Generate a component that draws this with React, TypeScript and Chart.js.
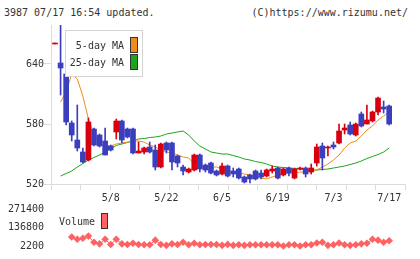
import React, { useEffect, useRef } from "react";
import { Chart, registerables } from "chart.js";

Chart.register(...registerables);

// Trading sessions shown on the chart
const dates = [
  "4/20", "4/21", "4/22", "4/23", "4/24", "4/27", "4/28", "4/30", "5/1", "5/7",
  "5/8", "5/11", "5/12", "5/13", "5/14", "5/15", "5/18", "5/19", "5/20", "5/21",
  "5/22", "5/25", "5/26", "5/27", "5/28", "5/29", "6/1", "6/2", "6/3", "6/4",
  "6/5", "6/8", "6/9", "6/10", "6/11", "6/12", "6/15", "6/16", "6/17", "6/18",
  "6/19", "6/22", "6/23", "6/24", "6/25", "6/26", "6/29", "6/30", "7/1", "7/2",
  "7/3", "7/6", "7/7", "7/8", "7/9", "7/10", "7/13", "7/14", "7/15", "7/16",
  "7/17",
];

const openPrices = [
  660, 641, 630, 581, 564, 552, 544, 575, 569, 563,
  558, 572, 583, 575, 575, 551, 552, 557, 554, 537,
  561, 561, 548, 537, 532, 534, 549, 539, 541, 533,
  530, 538, 533, 535, 527, 529, 533, 531, 528, 533,
  536, 529, 536, 526, 535, 536, 532, 541, 558, 556,
  559, 561, 574, 579, 569, 590, 580, 583, 592, 597,
  598,
];
const highPrices = [
  661, 690, 635, 583, 599, 556, 586, 576, 570, 576,
  559, 585, 584, 576, 576, 562, 557, 562, 559, 561,
  562, 562, 549, 539, 536, 550, 550, 540, 542, 534,
  541, 539, 536, 536, 528, 530, 534, 534, 535, 538,
  537, 536, 537, 536, 537, 537, 540, 560, 561, 558,
  562, 580, 580, 582, 581, 592, 599, 593, 607, 603,
  599,
];
const lowPrices = [
  660, 609, 579, 563, 553, 541, 543, 558, 557, 549,
  553, 565, 561, 566, 550, 551, 550, 551, 534, 536,
  551, 534, 537, 529, 531, 533, 532, 532, 530, 528,
  529, 527, 527, 525, 521, 521, 524, 525, 527, 531,
  525, 528, 528, 525, 534, 527, 530, 538, 534, 548,
  555, 560, 570, 569, 568, 577, 580, 582, 589, 591,
  579,
];
const closePrices = [
  661, 636, 582, 569, 556, 542, 582, 559, 558, 549,
  554, 583, 564, 567, 551, 553, 556, 552, 537, 560,
  554, 542, 541, 533, 535, 549, 535, 534, 531, 529,
  538, 528, 530, 526, 522, 525, 525, 527, 534, 535,
  526, 535, 531, 535, 536, 530, 536, 557, 546, 557,
  557, 573, 576, 570, 580, 578, 584, 592, 606, 595,
  580,
];

const ma5 = [
  null, 602, 612, 630, 625, 608, 585, 570, 561, 558,
  558, 560, 561, 562, 563, 563, 562, 559, 557, 554,
  552, 551, 549, 547, 546, 540, 538, 537, 537, 537,
  535, 534, 532, 531, 530, 529, 527, 526, 525, 527,
  529, 530, 531, 531, 532, 532, 533, 534, 537, 540,
  544, 549, 556, 561, 563, 568, 574, 578, 584, 588,
  592,
];
const ma25 = [
  null, 528, 530.5, 533, 537, 540.5, 544, 546.5, 549, 552,
  555, 558.5, 560, 561.5, 563, 565, 565.5, 566.5, 567, 568,
  570, 571, 572, 573, 569, 563, 558, 555, 552, 551,
  550, 550, 548.5, 547, 545, 544, 542.5, 541.5, 540, 538,
  537, 536.5, 536, 535.5, 535, 534, 534, 534, 534.5, 535,
  536, 537, 538, 539.5, 541, 543, 545.5, 547.5, 549.5, 552,
  556,
];

const volumes = [
  null, null, null, 67500, 51300, 58100, 74200, 29100, 17700, 51300,
  13600, 51300, 17700, 13600, 22400, 13600, 10900, 10900, 44600, 13600,
  6900, 17700, 13600, 29100, 10900, 22400, 10900, 13600, 13600, 13600,
  6900, 14000, 6900, 10900, 6900, 10900, 10900, 10900, 10900, 10900,
  10900, 2200, 10900, 10900, 2200, 10900, 10900, 24400, 29100, 6900,
  10900, 24400, 10900, 6900, 10900, 17700, 22400, 51300, 44600, 29100,
  40600,
];

const priceTicks = [520, 580, 640];
const volumeTicks = [2200, 136800, 271400];
const dateTickLabels = ["5/8", "5/22", "6/5", "6/19", "7/3", "7/17"];

const UP = "#d6000e";
const DOWN = "#3b3fbe";
const MA5_COLOR = "#f08c1c";
const MA25_COLOR = "#1aa51a";
const VOL_COLOR = "#ff6262";
const AXIS_COLOR = "#dcdcdc";
const TEXT_COLOR = "#333";
const FONT = "'DejaVu Sans Mono', 'Liberation Mono', monospace";

const X_MIN = -0.72;
const X_MAX = 62.84;

const candleColors = openPrices.map((o, i) => (closePrices[i] >= o ? UP : DOWN));

const maLegend = {
  id: "maLegend",
  afterDraw(chart: any) {
    const ctx = chart.ctx as CanvasRenderingContext2D;
    ctx.save();
    ctx.fillStyle = "#fff";
    ctx.fillRect(65, 30, 78, 47);
    ctx.strokeStyle = "#d4d4d4";
    ctx.lineWidth = 1;
    ctx.strokeRect(65.5, 30.5, 77, 46);
    ctx.font = `10px ${FONT}`;
    ctx.fillStyle = TEXT_COLOR;
    ctx.textAlign = "right";
    ctx.textBaseline = "middle";
    ctx.fillText("5-day MA", 124, 46);
    ctx.fillText("25-day MA", 124, 63);
    ctx.fillStyle = MA5_COLOR;
    ctx.fillRect(131, 38, 6, 14);
    ctx.fillStyle = MA25_COLOR;
    ctx.fillRect(131, 55, 6, 14);
    ctx.strokeStyle = "#333";
    ctx.strokeRect(130.5, 37.5, 7, 15);
    ctx.strokeRect(130.5, 54.5, 7, 15);
    ctx.restore();
  },
};

const volumeLegend = {
  id: "volumeLegend",
  afterDraw(chart: any) {
    const ctx = chart.ctx as CanvasRenderingContext2D;
    ctx.save();
    ctx.font = `10px ${FONT}`;
    ctx.fillStyle = TEXT_COLOR;
    ctx.textAlign = "right";
    ctx.textBaseline = "middle";
    ctx.fillText("Volume", 95, 32);
    ctx.fillStyle = VOL_COLOR;
    ctx.fillRect(102, 24, 5, 14);
    ctx.strokeStyle = "#333";
    ctx.lineWidth = 1;
    ctx.strokeRect(101.5, 23.5, 6, 15);
    ctx.restore();
  },
};

export default function App() {
  const priceRef = useRef<HTMLCanvasElement>(null);
  const volRef = useRef<HTMLCanvasElement>(null);

  useEffect(() => {
    Chart.defaults.font.family = FONT;
    Chart.defaults.font.size = 10;
    Chart.defaults.color = TEXT_COLOR;

    const idx = dates.map((_, i) => i);

    const priceChart = new Chart(priceRef.current!, {
      type: "bar",
      data: {
        datasets: [
          {
            type: "bar",
            label: "body",
            data: idx.map((i) => ({ x: i, y: [openPrices[i], closePrices[i]] })) as any,
            backgroundColor: candleColors,
            barThickness: 5,
            minBarLength: 1,
            grouped: false,
            borderWidth: 0,
            order: 0,
          },
          {
            type: "bar",
            label: "wick",
            data: idx.map((i) => ({ x: i, y: [lowPrices[i], highPrices[i]] })) as any,
            backgroundColor: candleColors,
            barThickness: 1,
            grouped: false,
            borderWidth: 0,
            order: 1,
          },
          {
            type: "line",
            label: "5-day MA",
            data: idx.map((i) => ({ x: i, y: ma5[i] })) as any,
            borderColor: MA5_COLOR,
            borderWidth: 1,
            pointRadius: 0,
            order: 2,
          },
          {
            type: "line",
            label: "25-day MA",
            data: idx.map((i) => ({ x: i, y: ma25[i] })) as any,
            borderColor: MA25_COLOR,
            borderWidth: 1,
            pointRadius: 0,
            order: 3,
          },
        ],
      },
      options: {
        responsive: false,
        animation: false,
        devicePixelRatio: 1,
        events: [],
        layout: { padding: { top: 25, right: 15, left: 0, bottom: 0 } },
        plugins: { legend: { display: false }, tooltip: { enabled: false } },
        scales: {
          x: {
            type: "linear",
            display: false,
            min: X_MIN,
            max: X_MAX,
            offset: false,
          },
          xt: {
            type: "linear",
            position: "bottom",
            min: 0,
            max: 11,
            ticks: { display: false, stepSize: 1 },
            grid: { drawOnChartArea: false, tickLength: 6, color: AXIS_COLOR },
            border: { color: AXIS_COLOR },
            afterFit: (s: any) => {
              s.height = 8;
            },
          },
          y: {
            type: "linear",
            position: "left",
            min: 520,
            max: 679,
            beginAtZero: false,
            afterBuildTicks: (s: any) => {
              s.ticks = priceTicks.map((v) => ({ value: v }));
            },
            ticks: { padding: 0, color: TEXT_COLOR, callback: (v: any) => String(v) },
            grid: { drawOnChartArea: false, tickLength: 7, color: AXIS_COLOR },
            border: { color: AXIS_COLOR },
            afterFit: (s: any) => {
              s.width = 51;
            },
          },
        },
      } as any,
      plugins: [maLegend],
    });

    const dateTickIdx = dateTickLabels.map((d) => dates.indexOf(d));

    const volChart = new Chart(volRef.current!, {
      type: "line",
      data: {
        datasets: [
          {
            label: "Volume",
            data: idx.map((i) => ({ x: i, y: volumes[i] })) as any,
            borderColor: VOL_COLOR,
            backgroundColor: VOL_COLOR,
            borderWidth: 1,
            pointStyle: "rectRot",
            pointRadius: 3.8,
            pointBorderWidth: 0,
            pointBackgroundColor: VOL_COLOR,
            clip: false as any,
          },
        ],
      },
      options: {
        responsive: false,
        animation: false,
        devicePixelRatio: 1,
        events: [],
        layout: { padding: { top: 0, right: 15, left: 0, bottom: 10 } },
        plugins: { legend: { display: false }, tooltip: { enabled: false } },
        scales: {
          x: {
            type: "linear",
            position: "top",
            min: X_MIN,
            max: X_MAX,
            afterBuildTicks: (s: any) => {
              s.ticks = dateTickIdx.map((v) => ({ value: v }));
            },
            ticks: {
              autoSkip: false,
              maxRotation: 0,
              padding: 5,
              color: TEXT_COLOR,
              callback: (v: any) => dates[Number(v)],
            },
            grid: { display: false, drawTicks: false },
            border: { display: false },
            afterFit: (s: any) => {
              s.height = 19;
            },
          },
          y: {
            type: "linear",
            position: "left",
            min: 2200,
            max: 271400,
            afterBuildTicks: (s: any) => {
              s.ticks = volumeTicks.map((v) => ({ value: v }));
            },
            ticks: { padding: 7, color: TEXT_COLOR, callback: (v: any) => String(v) },
            grid: { display: false, drawTicks: false },
            border: { display: false },
            afterFit: (s: any) => {
              s.width = 51;
            },
          },
        },
      } as any,
      plugins: [volumeLegend],
    });

    return () => {
      priceChart.destroy();
      volChart.destroy();
    };
  }, []);

  const textStyle: React.CSSProperties = {
    position: "absolute",
    top: 7,
    font: `10px ${FONT}`,
    lineHeight: "12px",
    color: TEXT_COLOR,
    whiteSpace: "nowrap",
  };

  return (
    <div
      style={{
        position: "absolute",
        left: 0,
        top: 0,
        width: 420,
        height: 259,
        background: "#fff",
        overflow: "hidden",
      }}
    >
      <div style={{ ...textStyle, left: 4 }}>3987 07/17 16:54 updated.</div>
      <div style={{ ...textStyle, right: 12 }}>(C)https://www.rizumu.net/</div>
      <canvas
        ref={priceRef}
        width={420}
        height={192}
        style={{ position: "absolute", left: 0, top: 0 }}
      />
      <canvas
        ref={volRef}
        width={420}
        height={69}
        style={{ position: "absolute", left: 0, top: 190 }}
      />
    </div>
  );
}
